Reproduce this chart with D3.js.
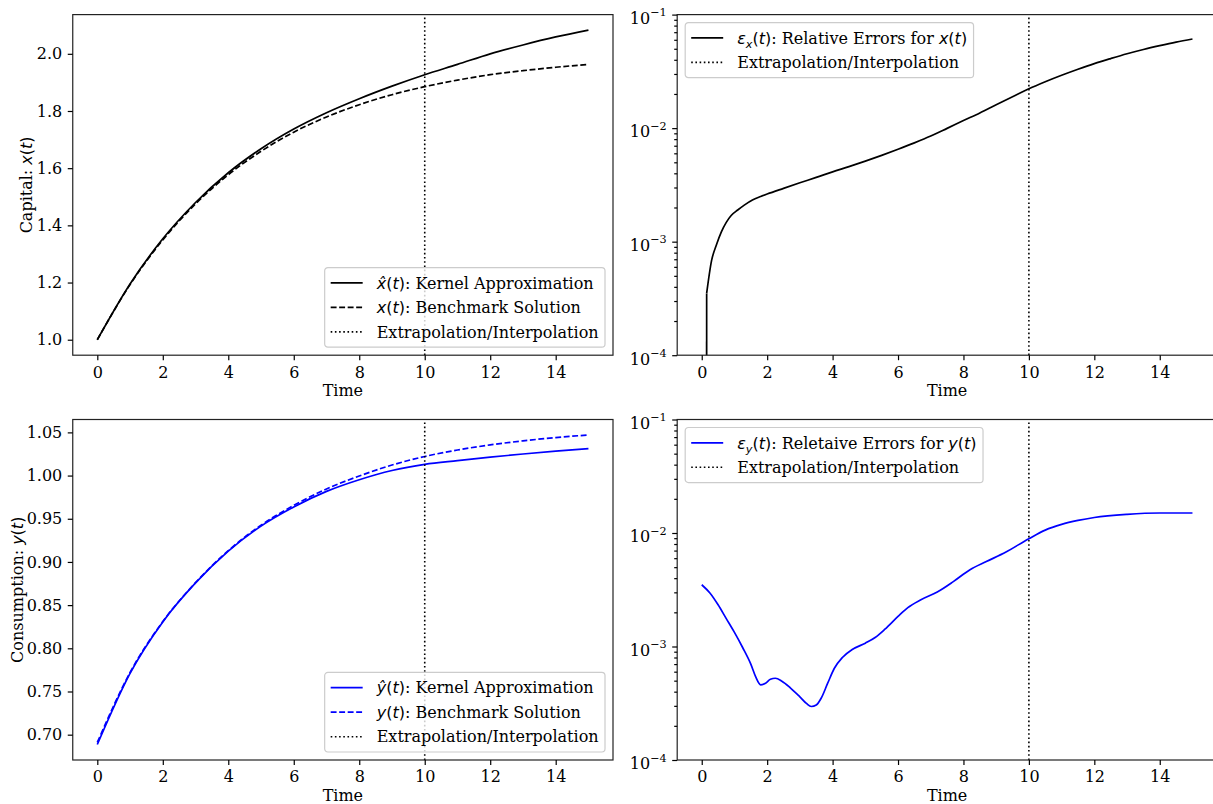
<!DOCTYPE html>
<html>
<head>
<meta charset="utf-8">
<script src="https://cdn.jsdelivr.net/npm/d3@7"></script>
<style>
  html, body { margin: 0; padding: 0; background: #fff; }
  svg { display: block; }
</style>
</head>
<body>
<svg id="fig" width="1213" height="804"></svg>
<script>
// ---------- data ----------
const time = [0, 1, 2, 3, 4, 5, 6, 7, 8, 9, 10, 11, 12, 13, 14, 15];
const capitalKernel    = [1.000, 1.195, 1.353, 1.480, 1.584, 1.668, 1.737, 1.794, 1.843, 1.887, 1.927, 1.963, 2.000, 2.031, 2.059, 2.083];
const capitalBenchmark = [1.000, 1.193, 1.349, 1.475, 1.577, 1.659, 1.726, 1.779, 1.822, 1.857, 1.885, 1.908, 1.927, 1.941, 1.953, 1.963];
const consumptionKernel    = [0.6886, 0.7710, 0.8306, 0.8757, 0.9125, 0.9415, 0.9637, 0.9817, 0.9952, 1.0059, 1.0130, 1.0173, 1.0213, 1.0250, 1.0283, 1.0313];
const consumptionBenchmark = [0.6910, 0.7720, 0.8310, 0.8760, 0.9130, 0.9425, 0.9655, 0.9845, 0.9995, 1.0122, 1.0221, 1.0296, 1.0355, 1.0402, 1.0440, 1.0470];

const errXTime  = [0, 0.15, 0.3, 0.45, 0.6, 0.75, 0.9, 1.1, 1.3, 1.55, 1.8, 2.0, 2.5, 3.0, 3.5, 4.0, 4.5, 5.0, 5.5, 6.0, 6.5, 7.0, 7.5, 8.0, 8.5, 9.0, 9.5, 10.0, 10.5, 11.0, 11.5, 12.0, 12.5, 13.0, 13.5, 14.0, 14.5, 15.0];
const errXValue = [0, 3.5e-4, 6.8e-4, 9.4e-4, 1.22e-3, 1.48e-3, 1.70e-3, 1.90e-3, 2.10e-3, 2.33e-3, 2.50e-3, 2.63e-3, 2.95e-3, 3.30e-3, 3.68e-3, 4.12e-3, 4.58e-3, 5.12e-3, 5.76e-3, 6.52e-3, 7.42e-3, 8.52e-3, 9.95e-3, 1.165e-2, 1.36e-2, 1.607e-2, 1.89e-2, 2.22e-2, 2.56e-2, 2.92e-2, 3.30e-2, 3.70e-2, 4.10e-2, 4.52e-2, 4.93e-2, 5.33e-2, 5.73e-2, 6.10e-2];

const errYTime  = [0, 0.25, 0.5, 0.75, 1.0, 1.25, 1.5, 1.65, 1.8, 1.95, 2.1, 2.25, 2.45, 2.7, 3.0, 3.2, 3.35, 3.5, 3.65, 3.85, 4.05, 4.3, 4.6, 5.0, 5.3, 5.6, 6.0, 6.3, 6.7, 7.2, 7.7, 8.2, 8.7, 9.3, 10.0, 10.5, 11.0, 11.5, 12.0, 13.0, 14.0, 15.0];
const errYValue = [3.50e-3, 2.96e-3, 2.33e-3, 1.76e-3, 1.33e-3, 9.8e-4, 7.0e-4, 5.4e-4, 4.6e-4, 4.75e-4, 5.15e-4, 5.25e-4, 4.95e-4, 4.35e-4, 3.6e-4, 3.15e-4, 2.96e-4, 3.05e-4, 3.5e-4, 4.75e-4, 6.4e-4, 8.0e-4, 9.4e-4, 1.07e-3, 1.20e-3, 1.42e-3, 1.84e-3, 2.20e-3, 2.58e-3, 3.02e-3, 3.75e-3, 4.75e-3, 5.60e-3, 6.80e-3, 8.90e-3, 1.06e-2, 1.19e-2, 1.29e-2, 1.37e-2, 1.46e-2, 1.50e-2, 1.50e-2];

const timeTicks = [0, 2, 4, 6, 8, 10, 12, 14];
const capitalTicks = [1.0, 1.2, 1.4, 1.6, 1.8, 2.0];
const consumptionTicks = [0.70, 0.75, 0.80, 0.85, 0.90, 0.95, 1.00, 1.05];
const errorTicks = [1e-4, 1e-3, 1e-2, 1e-1];
const errorTickExponents = ['\u22124', '\u22123', '\u22122', '\u22121'];
const trainingBoundary = 10;

// ---------- style ----------
const F = 16, TICK = 5, MINOR = 3, PAD = 5.5;
const SERIF = "'DejaVu Serif', serif";
const SANS = "'DejaVu Sans', sans-serif";
const LW = 1.7;
const DASHED = '5.9,2.6';
const DOTTED = '1.6,2.6';
const BLACK = '#000000';
const BLUE = '#0000ff';

const svg = d3.select('#fig');
const defs = svg.append('defs');

const boxes = {
  capital:     { left: 72.75, right: 613,  top: 14.6,  bottom: 355.2 },
  errX:        { left: 677.2, right: 1217, top: 14.6,  bottom: 355.2 },
  consumption: { left: 72.75, right: 613,  top: 419.5, bottom: 760 },
  errY:        { left: 677.2, right: 1217, top: 419.5, bottom: 760 }
};

// 5% autoscale margin on each side of the data span
function padded(ext) {
  const r = ext[1] - ext[0];
  return [ext[0] - 0.05 * r, ext[1] + 0.05 * r];
}
const xDomain = padded(d3.extent(time));

// ---------- rich text (math pieces in sans italic) ----------
const it  = s => ({ s, m: 'it' });
const up  = s => ({ s, m: 'up' });
const rm  = s => ({ s, m: 'rm' });
const sub = s => ({ s, m: 'it', sub: true });
const ofT = [up('('), it('t'), up(')')];
const SUB_DROP = 4;

function rich(textSel, parts) {
  let shift = 0;
  parts.forEach(p => {
    const ts = textSel.append('tspan').text(p.s);
    if (p.m === 'it') ts.attr('font-family', SANS).attr('font-style', 'italic');
    else if (p.m === 'up') ts.attr('font-family', SANS);
    else ts.attr('font-family', SERIF);
    const want = p.sub ? SUB_DROP : 0;
    if (want !== shift) { ts.attr('dy', want - shift); shift = want; }
    if (p.sub) ts.attr('font-size', F * 0.7);
  });
}

// ---------- panel helpers ----------
function makePanel(name, yScale) {
  const b = boxes[name];
  const x = d3.scaleLinear().domain(xDomain).range([b.left, b.right]);
  yScale.range([b.bottom, b.top]);
  defs.append('clipPath').attr('id', 'clip-' + name).append('rect')
    .attr('x', b.left).attr('y', b.top)
    .attr('width', b.right - b.left).attr('height', b.bottom - b.top);
  const g = svg.append('g');
  const plot = g.append('g').attr('clip-path', `url(#clip-${name})`);
  return { b, x, y: yScale, g, plot };
}

function styleAxis(ax) {
  ax.select('.domain').remove();
  ax.attr('font-family', SERIF).attr('font-size', F);
  ax.selectAll('line').attr('stroke', BLACK).attr('stroke-width', 1.2);
  ax.selectAll('text').attr('fill', BLACK);
}

function xAxis(p) {
  const ax = p.g.append('g').attr('transform', `translate(0,${p.b.bottom})`)
    .call(d3.axisBottom(p.x).tickValues(timeTicks).tickFormat(d3.format('d'))
      .tickSizeInner(TICK).tickSizeOuter(0).tickPadding(PAD));
  styleAxis(ax);
  ax.selectAll('text').attr('dy', '0.74em');
  p.g.append('text')
    .attr('x', (p.b.left + p.b.right) / 2).attr('y', p.b.bottom + 40.5)
    .attr('text-anchor', 'middle').attr('font-family', SERIF).attr('font-size', F)
    .attr('fill', BLACK).text('Time');
}

function yAxisLinear(p, ticks, fmt) {
  const ax = p.g.append('g').attr('transform', `translate(${p.b.left},0)`)
    .call(d3.axisLeft(p.y).tickValues(ticks).tickFormat(d3.format(fmt))
      .tickSizeInner(TICK).tickSizeOuter(0).tickPadding(PAD));
  styleAxis(ax);
}

function yAxisLog(p) {
  const minor = p.y.ticks().filter(v => !errorTicks.some(t => Math.abs(t - v) / t < 1e-9));
  const axMinor = p.g.append('g').attr('transform', `translate(${p.b.left},0)`)
    .call(d3.axisLeft(p.y).tickValues(minor).tickFormat(() => '')
      .tickSizeInner(MINOR).tickSizeOuter(0));
  styleAxis(axMinor);
  const ax = p.g.append('g').attr('transform', `translate(${p.b.left},0)`)
    .call(d3.axisLeft(p.y).tickValues(errorTicks).tickFormat(() => '')
      .tickSizeInner(TICK).tickSizeOuter(0).tickPadding(PAD));
  styleAxis(ax);
  ax.selectAll('.tick text').each(function (d, i) {
    const t = d3.select(this).attr('dy', '0.55em');
    t.append('tspan').text('10');
    t.append('tspan').attr('dy', -7.5).attr('font-size', 11.2).text(errorTickExponents[i]);
  });
}

function yLabel(p, parts, xPos) {
  const t = p.g.append('text')
    .attr('transform', `translate(${xPos},${(p.b.top + p.b.bottom) / 2}) rotate(-90)`)
    .attr('text-anchor', 'middle').attr('font-size', F).attr('fill', BLACK);
  rich(t, parts);
}

function series(p, pts, color, dash, curve) {
  const line = d3.line().x(d => p.x(d[0])).y(d => p.y(d[1])).curve(curve || d3.curveMonotoneX);
  p.plot.append('path').datum(pts).attr('d', line)
    .attr('fill', 'none').attr('stroke', color).attr('stroke-width', LW)
    .attr('stroke-dasharray', dash || null).attr('stroke-linejoin', 'round');
}

function boundary(p) {
  const xv = p.x(trainingBoundary);
  p.plot.append('line').attr('x1', xv).attr('x2', xv)
    .attr('y1', p.b.bottom).attr('y2', p.b.top)
    .attr('stroke', BLACK).attr('stroke-width', 1.6).attr('stroke-dasharray', DOTTED);
}

function frame(p) {
  p.g.append('rect').attr('x', p.b.left).attr('y', p.b.top)
    .attr('width', p.b.right - p.b.left).attr('height', p.b.bottom - p.b.top)
    .attr('fill', 'none').attr('stroke', '#222').attr('stroke-width', 1.2);
}

const L_PAD = 6, L_HANDLE = 32, L_TEXT = 52, L_RPAD = 6.4, ROW0 = 15.3, ROWH = 24.5, AXPAD = 8;
function legend(p, items, corner) {
  const lg = p.g.append('g');
  const rect = lg.append('rect');
  const widths = items.map((item, i) => {
    const cy = ROW0 + i * ROWH;
    lg.append('line').attr('x1', L_PAD).attr('x2', L_PAD + L_HANDLE)
      .attr('y1', cy).attr('y2', cy)
      .attr('stroke', item.color).attr('stroke-width', item.dash === DOTTED ? 1.6 : LW)
      .attr('stroke-dasharray', item.dash || null);
    const t = lg.append('text').attr('x', L_TEXT).attr('y', cy).attr('dy', '0.36em')
      .attr('font-size', F).attr('fill', BLACK);
    rich(t, item.parts);
    return t.node().getBBox().width;
  });
  const w = L_TEXT + d3.max(widths) + L_RPAD;
  const h = 2 * ROW0 + (items.length - 1) * ROWH;
  rect.attr('width', w).attr('height', h).attr('rx', 3.2).attr('ry', 3.2)
    .attr('fill', '#ffffff').attr('fill-opacity', 0.8)
    .attr('stroke', '#cccccc').attr('stroke-width', 1.2);
  const tx = corner === 'lower right' ? p.b.right - AXPAD - w : p.b.left + AXPAD;
  const ty = corner === 'lower right' ? p.b.bottom - AXPAD - h : p.b.top + AXPAD;
  lg.attr('transform', `translate(${tx},${ty})`);
}

const boundaryItem = { color: BLACK, dash: DOTTED, parts: [rm('Extrapolation/Interpolation')] };

// ---------- capital ----------
{
  const y = d3.scaleLinear().domain(padded(d3.extent(capitalKernel.concat(capitalBenchmark))));
  const p = makePanel('capital', y);
  series(p, d3.zip(time, capitalKernel), BLACK);
  series(p, d3.zip(time, capitalBenchmark), BLACK, DASHED);
  boundary(p);
  frame(p);
  xAxis(p);
  yAxisLinear(p, capitalTicks, '.1f');
  yLabel(p, [rm('Capital: '), it('x')].concat(ofT), 31.5);
  legend(p, [
    { color: BLACK, parts: [it('x\u0302')].concat(ofT, [rm(': Kernel Approximation')]) },
    { color: BLACK, dash: DASHED, parts: [it('x')].concat(ofT, [rm(': Benchmark Solution')]) },
    boundaryItem
  ], 'lower right');
}

// ---------- relative error of capital ----------
{
  const y = d3.scaleLog().domain([errorTicks[0], errorTicks[errorTicks.length - 1]]);
  const p = makePanel('errX', y);
  // non-positive values are clipped to a tiny positive number on the log axis
  const pts = d3.zip(errXTime, errXValue.map(v => Math.max(v, 1e-300)));
  series(p, pts.slice(0, 2), BLACK, null, d3.curveLinear);
  series(p, pts.slice(1), BLACK);
  boundary(p);
  frame(p);
  xAxis(p);
  yAxisLog(p);
  legend(p, [
    { color: BLACK, parts: [it('\u03b5'), sub('x')].concat(ofT, [rm(': Relative Errors for '), it('x')], ofT) },
    boundaryItem
  ], 'upper left');
}

// ---------- consumption ----------
{
  const y = d3.scaleLinear().domain(padded(d3.extent(consumptionKernel.concat(consumptionBenchmark))));
  const p = makePanel('consumption', y);
  series(p, d3.zip(time, consumptionKernel), BLUE);
  series(p, d3.zip(time, consumptionBenchmark), BLUE, DASHED);
  boundary(p);
  frame(p);
  xAxis(p);
  yAxisLinear(p, consumptionTicks, '.2f');
  yLabel(p, [rm('Consumption: '), it('y')].concat(ofT), 23);
  legend(p, [
    { color: BLUE, parts: [it('y\u0302')].concat(ofT, [rm(': Kernel Approximation')]) },
    { color: BLUE, dash: DASHED, parts: [it('y')].concat(ofT, [rm(': Benchmark Solution')]) },
    boundaryItem
  ], 'lower right');
}

// ---------- relative error of consumption ----------
{
  const y = d3.scaleLog().domain([errorTicks[0], errorTicks[errorTicks.length - 1]]);
  const p = makePanel('errY', y);
  series(p, d3.zip(errYTime, errYValue), BLUE);
  boundary(p);
  frame(p);
  xAxis(p);
  yAxisLog(p);
  legend(p, [
    { color: BLUE, parts: [it('\u03b5'), sub('y')].concat(ofT, [rm(': Reletaive Errors for '), it('y')], ofT) },
    boundaryItem
  ], 'upper left');
}
</script>
</body>
</html>
